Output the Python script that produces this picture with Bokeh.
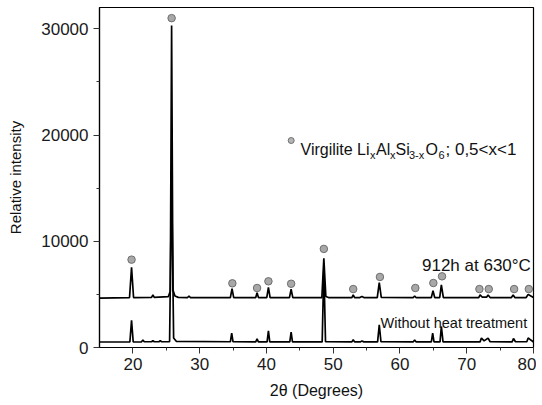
from bokeh.plotting import figure
from bokeh.models import Label, FixedTicker, NumeralTickFormatter
from bokeh.embed import file_html
from bokeh.resources import INLINE

# ---------------- data ----------------
# XRD pattern after 912 h at 630 C (offset trace)
x_912 = [15.0, 19.5, 19.8, 20.1, 22.8, 23.0, 23.2, 25.3, 25.6, 25.8, 26.0, 26.3, 26.8,
         28.2, 28.4, 28.6, 34.6, 34.85, 35.1, 38.4, 38.6, 38.8, 40.05, 40.3, 40.55,
         43.45, 43.7, 43.95, 48.3, 48.6, 48.9, 49.3, 52.8, 53.0, 53.2, 54.0, 54.3, 54.6,
         56.6, 56.9, 57.2, 62.0, 62.2, 62.4, 64.7, 64.95, 65.2, 65.95, 66.2, 66.5,
         71.8, 72.0, 72.3, 73.0, 73.2, 73.5, 76.7, 76.95, 77.2, 78.9, 79.2, 79.6, 80.0]
y_912 = [4650, 4700, 7550, 4700, 4720, 4950, 4720, 4780, 5300, 30300, 5400, 4850, 4720,
         4700, 4850, 4700, 4700, 5550, 4700, 4700, 5150, 4700, 4700, 5650, 4700,
         4700, 5500, 4700, 4700, 8400, 4800, 4700, 4700, 4950, 4700, 4700, 4800, 4700,
         4700, 6100, 4720, 4700, 4850, 4700, 4700, 5350, 4700, 4700, 5900, 4700,
         4700, 4950, 4750, 4750, 4950, 4700, 4700, 4950, 4700, 4700, 5000, 4850, 4700]

# XRD pattern without heat treatment
x_raw = [15.0, 19.55, 19.8, 20.05, 21.3, 21.5, 21.7, 22.8, 23.0, 23.2, 23.9, 24.1, 24.3,
         25.5, 25.8, 26.1, 26.5, 34.6, 34.8, 35.0, 38.4, 38.6, 38.8, 40.1, 40.3, 40.5,
         43.5, 43.7, 43.9, 48.35, 48.6, 48.85, 52.8, 53.0, 53.2, 54.1, 54.3, 54.6,
         56.65, 56.9, 57.15, 62.0, 62.2, 62.4, 64.7, 64.9, 65.1, 66.0, 66.2, 66.45,
         72.0, 72.2, 72.6, 73.2, 73.5, 76.8, 77.0, 77.3, 79.0, 79.2, 79.6, 80.0]
y_raw = [520, 520, 2550, 520, 530, 700, 540, 540, 650, 540, 540, 640, 540,
         560, 16000, 900, 580, 540, 1360, 540, 530, 820, 530, 530, 1570, 530,
         530, 1450, 530, 530, 7500, 540, 530, 730, 530, 530, 620, 530,
         530, 2140, 560, 530, 700, 530, 530, 1360, 530, 530, 1980, 530,
         530, 890, 620, 880, 540, 530, 850, 540, 540, 900, 700, 520]

# Virgilite peak markers
mark_x = [19.8, 25.8, 34.9, 38.6, 40.3, 43.7, 48.6, 53.0, 57.0, 62.3, 65.0, 66.3,
          71.9, 73.3, 77.1, 79.3]
mark_y = [8270, 31000, 6040, 5600, 6230, 6000, 9280, 5500, 6640, 5600, 6070, 6700,
          5500, 5500, 5500, 5500]

x_ticks = [20, 30, 40, 50, 60, 70, 80]
x_minor = [25, 35, 45, 55, 65, 75]
y_ticks = [0, 10000, 20000, 30000]
y_minor = [5000, 15000, 25000]

FONT = "Liberation Sans"
W, H = 536, 405
FL, FB = 99, 347   # frame left / bottom in page pixels

p = figure(width=W, height=H, x_range=(15, 80), y_range=(0, 32000),
           output_backend="svg", toolbar_location=None,
           min_border_left=FL, min_border_right=3, min_border_top=7,
           min_border_bottom=H - FB)
p.grid.visible = False
p.outline_line_color = "black"
p.outline_line_width = 1.2
p.background_fill_color = "white"
p.border_fill_color = "white"

p.line(x_912, y_912, line_color="black", line_width=1.7)
p.line(x_raw, y_raw, line_color="black", line_width=1.7)
p.scatter(mark_x, mark_y, size=7.5, fill_color="#a8a8a8", line_color="#6e6e6e",
          line_width=1)

for ax in (p.xaxis[0], p.yaxis[0]):
    ax.axis_line_color = "black"
    ax.axis_line_width = 1.2
    ax.major_tick_line_color = "#333333"
    ax.minor_tick_line_color = "#333333"
    ax.major_tick_in = 0
    ax.major_tick_out = 6
    ax.minor_tick_in = 0
    ax.minor_tick_out = 3
    ax.major_label_text_font = FONT
    ax.major_label_text_font_size = "17px"
    ax.major_label_text_color = "#1a1a1a"
    ax.axis_label_text_font = FONT
    ax.axis_label_text_font_style = "normal"
    ax.axis_label_text_color = "#111111"

p.xaxis.ticker = FixedTicker(ticks=x_ticks, minor_ticks=x_minor)
p.yaxis.ticker = FixedTicker(ticks=y_ticks, minor_ticks=y_minor)
p.yaxis.formatter = NumeralTickFormatter(format="0")
p.xaxis.major_label_standoff = 4
p.yaxis.major_label_standoff = 5

p.xaxis.axis_label = "2\u03b8 (Degrees)"
p.xaxis.axis_label_text_font_size = "16px"
p.xaxis.axis_label_standoff = 9
p.yaxis.axis_label = "Relative intensity"
p.yaxis.axis_label_text_font_size = "15px"
p.yaxis.axis_label_standoff = 14


def sx(px):
    return px - FL


def sy(py):
    return FB - py


def lab(text, px, py, size, align="left", baseline="alphabetic", angle=0.0):
    p.add_layout(Label(x=sx(px), y=sy(py), x_units="screen", y_units="screen",
                       text=text, text_font=FONT, text_font_size=f"{size}px",
                       text_align=align, text_baseline=baseline, angle=angle,
                       text_color="#111111"))


# curve labels
lab("912h at 630\u00b0C", 421.5, 265, 17)
lab("Without heat treatment", 380, 322.5, 14.5)

# legend marker
p.scatter([43.71], [19480], size=6, fill_color="#b4b4b4", line_color="#707070",
          line_width=1)
# legend text with subscripts
lab("Virgilite Li", 300, 149, 16)
lab("x", 369.5, 154, 11)
lab("Al", 375.5, 149, 16)
lab("x", 389.5, 154, 11)
lab("Si", 395, 149, 16)
lab("3-x", 408.5, 154, 11)
lab("O", 425, 149, 16)
lab("6", 438, 154, 11)
lab("; 0,5<x<1", 445, 149, 17)

open("out.html", "w").write(file_html(p, INLINE))
